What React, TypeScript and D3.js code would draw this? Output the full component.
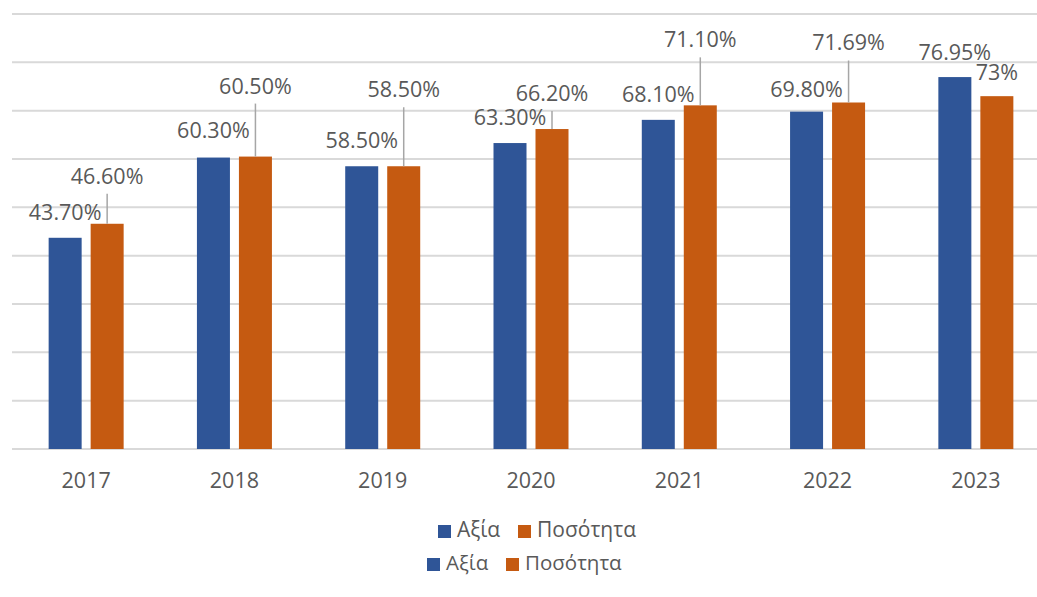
import React, { useEffect, useRef } from 'react';
import * as d3 from 'd3';

const years = ['2017', '2018', '2019', '2020', '2021', '2022', '2023'];
const axiaValues = [43.7, 60.3, 58.5, 63.3, 68.1, 69.8, 76.95];
const posotitaValues = [46.6, 60.5, 58.5, 66.2, 71.1, 71.69, 73];
const axiaLabels = ['43.70%', '60.30%', '58.50%', '63.30%', '68.10%', '69.80%', '76.95%'];
const posotitaLabels = ['46.60%', '60.50%', '58.50%', '66.20%', '71.10%', '71.69%', '73%'];
const seriesNames = ['Αξία', 'Ποσότητα'];
const gridTicks = [0, 10, 20, 30, 40, 50, 60, 70, 80, 90];

// label placement (manually dragged in the original), offset of the text baseline from the bar top
const axiaLabelDy = [-18, -20, -18, -18, -18, -15, -17];
const posotitaLabelDy = [-40, -63, -69, -28, -58, -52, -16];

const COLORS = ['#2F5597', '#C55A11'];
const TEXT = '#595959';
const FONT = '"Open Sans", "Noto Sans", sans-serif';

const App: React.FC = () => {
    const ref = useRef<SVGSVGElement | null>(null);

    useEffect(() => {
        if (!ref.current) return;
        const svg = d3.select(ref.current);
        svg.selectAll('*').remove();

        const x = d3.scaleBand().domain(years).range([12, 1050]).padding(0);
        const y = d3.scaleLinear().domain([0, 90]).range([449, 14]);
        const barW = 33;
        const offs = [-21, 21];

        // gridlines
        svg.append('g')
            .selectAll('line')
            .data(gridTicks)
            .enter()
            .append('line')
            .attr('x1', 12)
            .attr('x2', 1037)
            .attr('y1', (d) => y(d))
            .attr('y2', (d) => y(d))
            .attr('stroke', '#d9d9d9')
            .attr('stroke-width', 2);

        const series = [
            { values: axiaValues, labels: axiaLabels, dy: axiaLabelDy },
            { values: posotitaValues, labels: posotitaLabels, dy: posotitaLabelDy },
        ];

        series.forEach((s, si) => {
            const cx = (i: number) => (x(years[i]) as number) + x.bandwidth() / 2 + offs[si];
            const g = svg.append('g');
            g.selectAll('rect')
                .data(s.values)
                .enter()
                .append('rect')
                .attr('x', (_d, i) => cx(i) - barW / 2)
                .attr('y', (d) => y(d))
                .attr('width', barW)
                .attr('height', (d) => y(0) - y(d))
                .attr('fill', COLORS[si]);

            // leader lines for labels pulled far from bar
            g.selectAll('line.leader')
                .data(s.values.map((v, i) => ({ v, i })).filter((d) => s.dy[d.i] < -25))
                .enter()
                .append('line')
                .attr('class', 'leader')
                .attr('x1', (d) => cx(d.i))
                .attr('x2', (d) => cx(d.i))
                .attr('y1', (d) => y(d.v) + s.dy[d.i] + 10)
                .attr('y2', (d) => y(d.v))
                .attr('stroke', '#a6a6a6')
                .attr('stroke-width', 1.5);

            g.selectAll('text')
                .data(s.values)
                .enter()
                .append('text')
                .attr('x', (_d, i) => cx(i))
                .attr('y', (d, i) => y(d) + s.dy[i])
                .attr('text-anchor', 'middle')
                .attr('font-family', FONT)
                .attr('font-size', 21.5)
                .attr('fill', TEXT)
                .text((_d, i) => s.labels[i]);
        });

        // x axis labels
        svg.append('g')
            .selectAll('text')
            .data(years)
            .enter()
            .append('text')
            .attr('x', (d) => (x(d) as number) + x.bandwidth() / 2)
            .attr('y', 488)
            .attr('text-anchor', 'middle')
            .attr('font-family', FONT)
            .attr('font-size', 21.5)
            .attr('fill', TEXT)
            .text((d) => d);

        // legend (appears twice in the original)
        const legendRows = [
            { y: 537, x: [438, 518], size: 21 },
            { y: 570, x: [427, 506], size: 20.5 },
        ];
        legendRows.forEach((row) => {
            seriesNames.forEach((name, i) => {
                svg.append('rect')
                    .attr('x', row.x[i])
                    .attr('y', row.y - 12)
                    .attr('width', 13)
                    .attr('height', 13)
                    .attr('fill', COLORS[i]);
                svg.append('text')
                    .attr('x', row.x[i] + 19)
                    .attr('y', row.y)
                    .attr('font-family', FONT)
                    .attr('font-size', row.size)
                    .attr('fill', TEXT)
                    .text(name);
            });
        });
    }, []);

    return (
        <svg
            ref={ref}
            width={1037}
            height={597}
            style={{ position: 'absolute', left: 0, top: 0, background: '#fff' }}
        />
    );
};

export default App;
